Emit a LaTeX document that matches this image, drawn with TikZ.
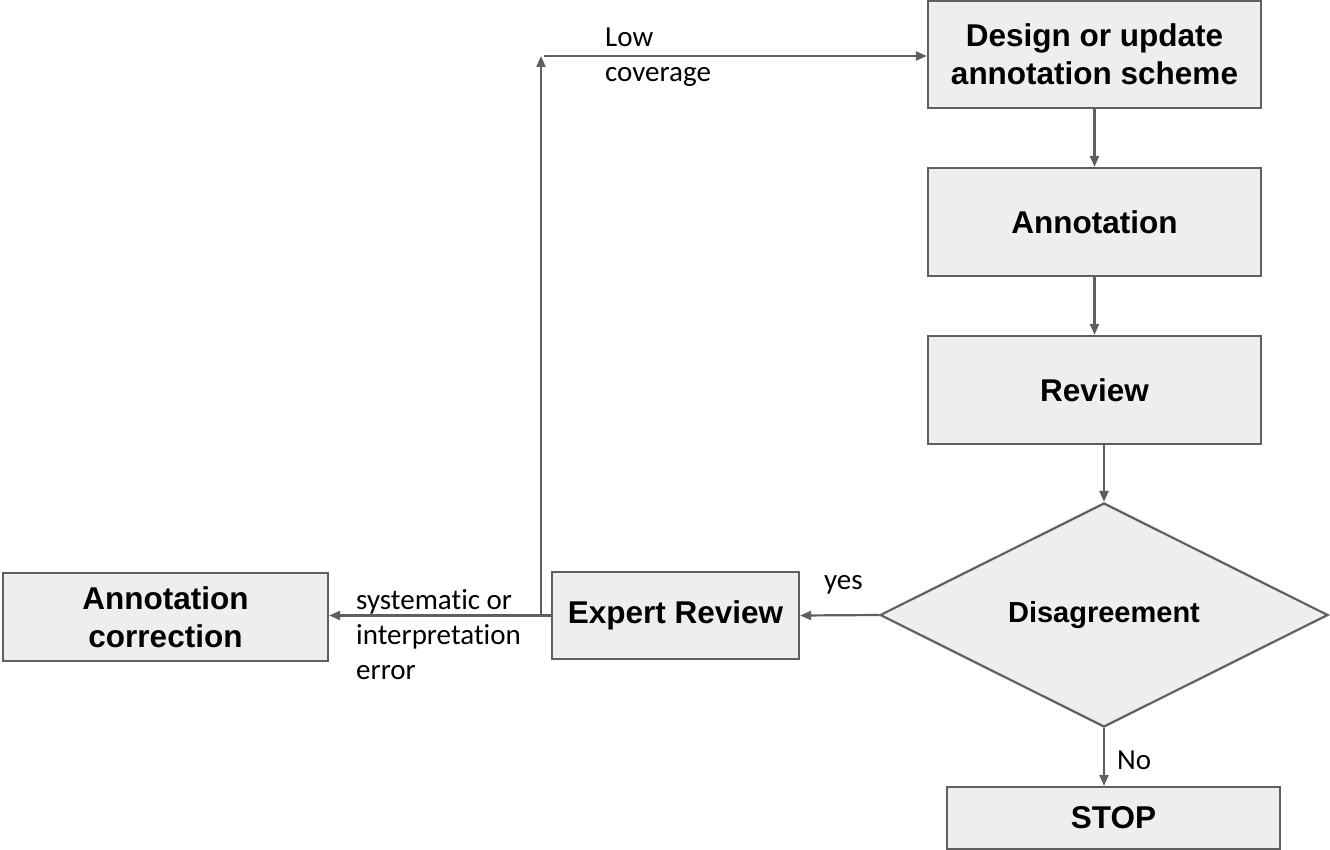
\documentclass[tikz,border=0pt]{standalone}
\usepackage{fontspec}
\setmainfont{Liberation Sans}
\newfontfamily\lblfont[RawFeature={-liga;-clig;-calt;-dlig}]{Carlito}
\usetikzlibrary{arrows.meta,shapes.geometric}
\definecolor{edgegray}{HTML}{5F5F5F}
\definecolor{boxfill}{HTML}{EEEEEE}
\begin{document}
\begin{tikzpicture}[x=1pt,y=-1pt,
  stepbox/.style={draw=edgegray,line width=2.2pt,fill=boxfill,inner sep=0pt,
    align=center,font=\fontsize{31.5}{38}\selectfont\bfseries},
  decision/.style={diamond,draw=edgegray,line width=2.2pt,fill=boxfill,inner sep=0pt,
    minimum width=448pt,minimum height=224pt,
    font=\fontsize{29}{35}\selectfont\bfseries},
  flow/.style={draw=edgegray,line width=2.2pt,-{Triangle[length=11pt,width=9pt]}},
  lbl/.style={inner sep=0pt,align=left,font=\lblfont\fontsize{29}{35}\selectfont}]
  \useasboundingbox (0,0) rectangle (1330,850);

  % process boxes
  \node[stepbox,minimum width=333pt,minimum height=107pt] (design) at (1094.5,54.5)
    {Design or update\\annotation scheme};
  \node[stepbox,minimum width=333pt,minimum height=108pt] (annot) at (1094.5,222) {Annotation};
  \node[stepbox,minimum width=333pt,minimum height=108pt] (review) at (1094.5,390) {Review};
  \node[decision] (dis) at (1104,615) {Disagreement};
  \node[stepbox,minimum width=333pt,minimum height=62pt] (stop) at (1113.5,818) {STOP};
  \node[stepbox,minimum width=247pt,minimum height=87pt] (expert) at (675.5,615.5) {Expert Review};
  \node[stepbox,minimum width=325pt,minimum height=88pt] (corr) at (165.5,617)
    {Annotation\\correction};

  % feedback loop points
  \coordinate (jn) at (541,616);
  \coordinate (up) at (541,56);

  % connectors
  \draw[flow] (design.south) -- (annot.north);
  \draw[flow] (annot.south) -- (review.north);
  \draw[flow] (review.south -| dis.north) -- (dis.north);
  \draw[flow] (dis.south) -- (dis.south |- stop.north);
  \draw[flow] (dis.west) -- (expert.east);
  \draw[flow] (expert.west) -- (expert.west -| corr.east);
  \draw[flow] (jn) -- (up);
  \draw[flow] ([xshift=3pt]up) -- (up -| design.west);

  % connector labels
  \node[lbl,anchor=west] (lowcov) at (605,57) {Low\\coverage};
  \node[lbl,anchor=west] (errlbl) at (356,635) {systematic or\\interpretation\\error};
  \node[lbl,anchor=west] (yes) at (824,585) {yes};
  \node[lbl,anchor=west] (no) at (1117,760) {No};
\end{tikzpicture}
\end{document}
